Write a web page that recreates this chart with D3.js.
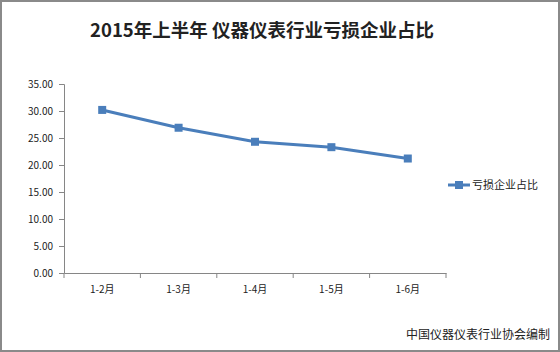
<!DOCTYPE html>
<html lang="zh">
<head>
  <meta charset="UTF-8">
  <title>2015年上半年仪器仪表行业亏损企业占比</title>
  <script src="https://d3js.org/d3.v7.min.js"></script>
  <style>
    body { margin: 0; background: #fff; }
    text { font-family: "Noto Sans CJK SC", "Noto Sans", sans-serif; fill: #222; }
  </style>
</head>
<body>
<div id="chart"></div>
<script>
  // data
  var months = ["1-2月", "1-3月", "1-4月", "1-5月", "1-6月"];
  var ratio = [30.2, 26.9, 24.3, 23.3, 21.2];
  var yTicks = [0, 5, 10, 15, 20, 25, 30, 35];
  var seriesName = "亏损企业占比";

  var w = 560, h = 352;
  var margin = {top: 84, right: 114, bottom: 79, left: 64};

  var svg = d3.select("#chart").append("svg")
    .attr("width", w)
    .attr("height", h);

  // outer frame
  svg.append("rect")
    .attr("x", 1).attr("y", 1)
    .attr("width", w - 2).attr("height", h - 2)
    .attr("fill", "#fff")
    .attr("stroke", "#8a8a8a")
    .attr("stroke-width", 2);

  svg.append("text")
    .attr("x", 262).attr("y", 37)
    .attr("text-anchor", "middle")
    .style("font-size", "18.5px")
    .style("font-weight", "bold")
    .attr("fill", "#111")
    .text("2015年上半年 仪器仪表行业亏损企业占比");

  var x = d3.scaleBand()
    .domain(months)
    .range([margin.left, w - margin.right]);

  var y = d3.scaleLinear()
    .domain([0, 35])
    .range([h - margin.bottom, margin.top]);

  var yAxis = svg.append("g")
    .attr("transform", "translate(" + margin.left + ",0)")
    .call(d3.axisLeft(y).tickValues(yTicks).tickFormat(d3.format(".2f")).tickSize(5).tickPadding(6));

  var xAxis = svg.append("g")
    .attr("transform", "translate(0," + (h - margin.bottom) + ")")
    .call(d3.axisBottom(x).tickSize(0).tickPadding(13));

  // excel-style ticks between categories
  xAxis.selectAll(".sep")
    .data(months.map((m, i) => i).concat([months.length]))
    .enter().append("line")
    .attr("x1", i => margin.left + i * x.step())
    .attr("x2", i => margin.left + i * x.step())
    .attr("y1", 0).attr("y2", 5)
    .attr("stroke", "#868686");

  svg.selectAll(".domain").attr("stroke", "#868686");
  yAxis.selectAll(".tick line").attr("stroke", "#868686");
  svg.selectAll(".tick text").style("font-size", "10px").attr("fill", "#222");

  var line = d3.line()
    .x((d, i) => x(months[i]) + x.bandwidth() / 2)
    .y(d => y(d));

  svg.append("path")
    .datum(ratio)
    .attr("d", line)
    .attr("fill", "none")
    .attr("stroke", "#4a7ebb")
    .attr("stroke-width", 3);

  svg.selectAll(".pt")
    .data(ratio)
    .enter().append("rect")
    .attr("x", (d, i) => x(months[i]) + x.bandwidth() / 2 - 4)
    .attr("y", d => y(d) - 4)
    .attr("width", 8).attr("height", 8)
    .attr("fill", "#4a7ebb");

  // legend
  var lg = svg.append("g").attr("transform", "translate(448,185)");
  lg.append("line").attr("x1", 0).attr("x2", 22).attr("stroke", "#4a7ebb").attr("stroke-width", 3);
  lg.append("rect").attr("x", 7).attr("y", -4).attr("width", 8).attr("height", 8).attr("fill", "#4a7ebb");
  lg.append("text").attr("x", 24).attr("y", 4).style("font-size", "11px").text(seriesName);

  svg.append("text")
    .attr("x", 550).attr("y", 339)
    .attr("text-anchor", "end")
    .style("font-size", "12px")
    .text("中国仪器仪表行业协会编制");
</script>
</body>
</html>
